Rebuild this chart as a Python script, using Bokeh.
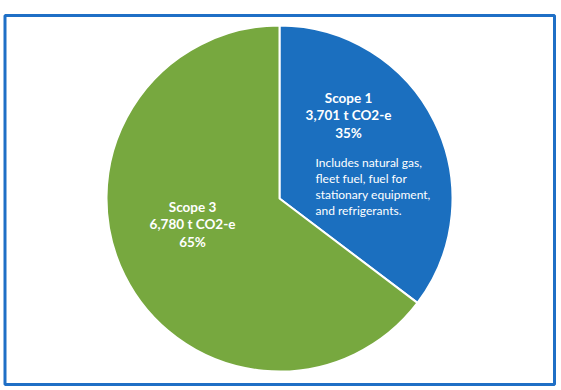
import math
from bokeh.plotting import figure
from bokeh.models import Range1d, ColumnDataSource
from bokeh.core.properties import value
from bokeh.embed import file_html
from bokeh.resources import INLINE

# ---- data ----
categories = ["Scope 1", "Scope 3"]
values = [3701, 6780]
value_labels = ["3,701 t CO2-e", "6,780 t CO2-e"]
pct_labels = ["35%", "65%"]
note_lines = ["Includes natural gas,", "fleet fuel, fuel for",
              "stationary equipment,", "and refrigerants."]
colors = ["#1B6FBF", "#77A83F"]

# ---- layout (page-pixel-like data coordinates, y up) ----
W, H = 557, 388
def py(y):  # page y -> data y
    return H - y

cx, cy, R = 279, py(198), 173

p = figure(width=W, height=H, output_backend="svg", toolbar_location=None,
           x_range=Range1d(0, W), y_range=Range1d(0, H),
           min_border=0)
p.axis.visible = False
p.grid.visible = False
p.outline_line_color = None
p.background_fill_color = "white"
p.border_fill_color = "white"

# frame
p.quad(left=[4.5], right=[554], top=[py(15)], bottom=[py(384)],
       fill_color=None, line_color="#1F6FC6", line_width=3)

# wedges
total = sum(values)
starts, ends = [], []
acc = 0.0
for v in values:
    a0 = math.pi / 2 - 2 * math.pi * acc / total
    acc += v
    a1 = math.pi / 2 - 2 * math.pi * acc / total
    starts.append(a0)
    ends.append(a1)
src = ColumnDataSource(dict(cat=categories, start=starts, end=ends, color=colors,
                            x=[cx] * len(values), y=[cy] * len(values)))
p.wedge(x="x", y="y", radius=R, start_angle="start", end_angle="end",
        direction="clock", fill_color="color", line_color="white", line_width=2,
        source=src)

# labels: offsets from centre for each category label block
label_pos = [(348 - 279, 198 - 97), (192 - 279, 198 - 206)]
LINE = 17.5
bx, by, bt = [], [], []
for i, cat in enumerate(categories):
    lx = cx + label_pos[i][0]
    ly = cy + label_pos[i][1]
    for j, t in enumerate([cat, value_labels[i], pct_labels[i]]):
        bx.append(lx)
        by.append(ly - j * LINE)
        bt.append(t)
p.text(x=bx, y=by, text=bt, text_font=value("Lato"), text_font_size="13.5px",
       text_font_style="bold", text_color="white", text_align="center",
       text_baseline="middle")

nx = [315] * len(note_lines)
ny = [py(161.5) - j * 16 for j in range(len(note_lines))]
p.text(x=nx, y=ny, text=note_lines, text_font=value("Lato"), text_font_size="12px",
       text_color="white", text_align="left", text_baseline="middle")

open("out.html", "w").write(file_html(p, INLINE))
